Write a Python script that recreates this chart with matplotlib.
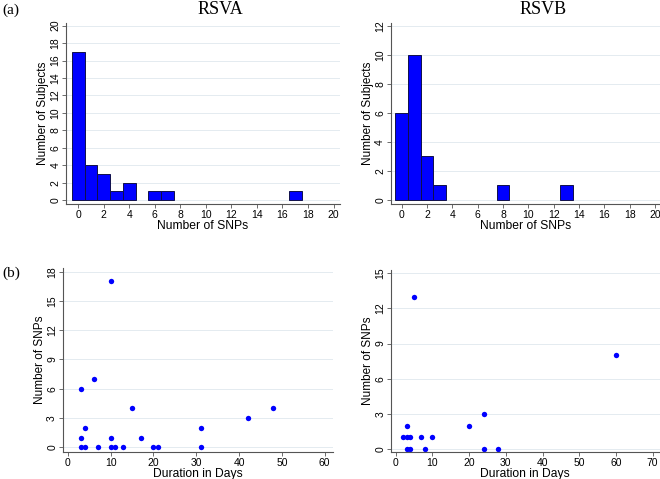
import matplotlib
matplotlib.use('Agg')
import matplotlib.pyplot as plt

# histogram counts (number of SNPs -> number of subjects)
snps_a = [0, 1, 2, 3, 4, 6, 7, 17]
subj_a = [17, 4, 3, 1, 2, 1, 1, 1]
snps_b = [0, 1, 2, 3, 8, 13]
subj_b = [6, 10, 3, 1, 1, 1]

# duration vs SNPs
days_a = [3, 3, 3, 4, 4, 6, 7, 10, 10, 10, 11, 13, 15, 17, 20, 21, 31, 31, 42, 48]
nsnp_a = [6, 1, 0, 2, 0, 7, 0, 17, 1, 0, 0, 0, 4, 1, 0, 0, 2, 0, 3, 4]
days_b = [2, 3, 3, 3, 4, 4, 5, 7, 8, 10, 20, 24, 24, 28, 60]
nsnp_b = [1, 1, 2, 0, 1, 0, 13, 1, 0, 1, 2, 3, 0, 0, 8]

plt.rcParams['font.family'] = 'Liberation Sans'
fig = plt.figure(figsize=(6.6, 4.79), dpi=100)

def style(ax, xticks, yticks, xlim, ylim, xlabel, ylabel):
    ax.set_xlim(*xlim)
    ax.set_ylim(*ylim)
    ax.set_xticks(xticks)
    ax.set_yticks(yticks)
    for s in ['top', 'right']:
        ax.spines[s].set_visible(False)
    for s in ['left', 'bottom']:
        ax.spines[s].set_color('#555555')
        ax.spines[s].set_linewidth(0.8)
    ax.tick_params(labelsize=7.5, length=3, width=0.6, color='#555555', pad=1)
    for lab in ax.get_yticklabels():
        lab.set_rotation(90)
        lab.set_va('center')
    ax.yaxis.grid(True, color='#e4ebf0', linewidth=0.7)
    ax.set_axisbelow(True)
    ax.set_xlabel(xlabel, fontsize=8.7, labelpad=0.5)
    ax.set_ylabel(ylabel, fontsize=8.5, labelpad=1)

ax1 = fig.add_axes([0.100, 0.574, 0.415, 0.378])
ax1.bar(snps_a, subj_a, width=1, color='#0000ff', edgecolor='#10104a', linewidth=0.7)
style(ax1, range(0, 21, 2), range(0, 21, 2), (-0.95, 20.5), (-0.45, 20.3),
      'Number of SNPs', 'Number of Subjects')

ax2 = fig.add_axes([0.592, 0.574, 0.408, 0.378])
ax2.bar(snps_b, subj_b, width=1, color='#0000ff', edgecolor='#10104a', linewidth=0.7)
style(ax2, range(0, 21, 2), range(0, 13, 2), (-0.87, 20.4), (-0.28, 12.2),
      'Number of SNPs', 'Number of Subjects')

ax3 = fig.add_axes([0.095, 0.056, 0.410, 0.385])
ax3.scatter(days_a, nsnp_a, s=15, color='#0000ff', linewidths=0)
style(ax3, range(0, 61, 10), range(0, 19, 3), (-1.2, 62), (-0.5, 18.4),
      'Duration in Days', 'Number of SNPs')

ax4 = fig.add_axes([0.592, 0.056, 0.408, 0.380])
ax4.scatter(days_b, nsnp_b, s=15, color='#0000ff', linewidths=0)
style(ax4, range(0, 71, 10), range(0, 16, 3), (-1.36, 72), (-0.26, 15.25),
      'Duration in Days', 'Number of SNPs')

fig.text(220 / 660, 1 - 10 / 479, 'RSVA', family='Liberation Serif', fontsize=13,
         ha='center', va='center')
fig.text(543 / 660, 1 - 10 / 479, 'RSVB', family='Liberation Serif', fontsize=13,
         ha='center', va='center')
fig.text(0.003, 1 - 10 / 479, '(a)', family='Liberation Serif', fontsize=11,
         ha='left', va='center')
fig.text(0.003, 1 - 273 / 479, '(b)', family='Liberation Serif', fontsize=11,
         ha='left', va='center')

fig.savefig('out.png', dpi=100)
